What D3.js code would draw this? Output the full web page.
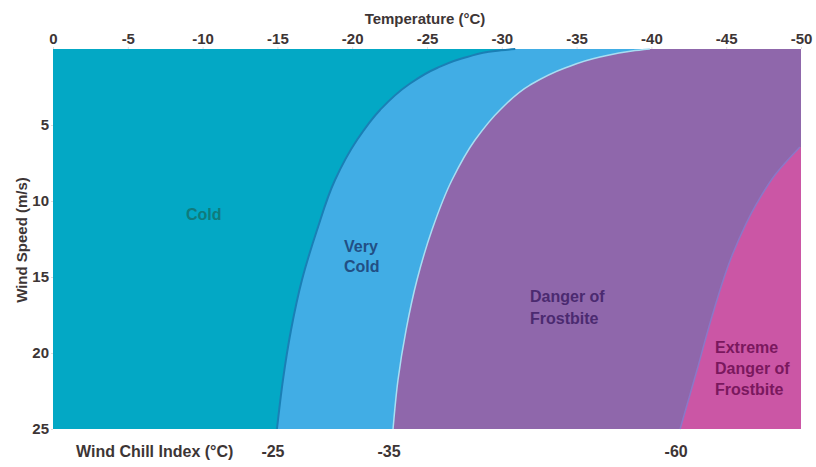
<!DOCTYPE html>
<html><head><meta charset="utf-8">
<script src="https://cdn.jsdelivr.net/npm/d3@7"></script>
<style>body{margin:0;background:#fff}svg{display:block}text{font-family:"Liberation Sans",Arial,sans-serif}</style>
</head><body><svg id="c" width="816" height="467"></svg>
<script>
const tempTicks = [0,-5,-10,-15,-20,-25,-30,-35,-40,-45,-50];
const windTicks = [5,10,15,20,25];
// boundaries: [wind (m/s), temperature (°C)]
const coldVeryCold = [[0,-30.9],[0.13,-29.55],[0.53,-27.67],[1.25,-25.67],[2.37,-23.73],[4.01,-21.86],[5.99,-20.32],[8.62,-18.85],[11.91,-17.65],[15.2,-16.64],[18.49,-15.91],[21.78,-15.37],[25,-14.97]];
const veryColdFrost = [[0,-39.9],[0.13,-38.7],[0.53,-36.56],[1.25,-34.22],[2.37,-31.88],[4.01,-29.88],[5.99,-28.21],[8.62,-26.67],[11.91,-25.33],[15.2,-24.33],[18.49,-23.6],[21.78,-23.06],[25,-22.73]];
const frostExtreme = [[6.45,-49.93],[8.29,-48.26],[10.13,-47.06],[13.42,-45.46],[17.83,-43.98],[21.12,-43.05],[25,-41.92]];
const zoneNames = ["Cold","Very Cold","Danger of Frostbite","Extreme Danger of Frostbite"];
const wciLabels = [-25,-35,-60];

const svg = d3.select("#c");
const x = d3.scaleLinear().domain([0,-50]).range([53,801]);
const y = d3.scaleLinear().domain([0,25]).range([49,429]);

svg.append("rect").attr("x",x(0)).attr("y",y(0)).attr("width",x(-50)-x(0)).attr("height",y(25)-y(0)).attr("fill","#8F67AB");

const crv = d3.curveMonotoneY;
const area = (pts, xa, xb) => d3.area().curve(crv).y(d=>y(d[0])).x0(xa).x1(xb)(pts);
svg.append("path").attr("d", area(frostExtreme, d=>x(d[1]), x(-50))).attr("fill","#CB56A5");
svg.append("path").attr("d", area(veryColdFrost, x(0), d=>x(d[1]))).attr("fill","#41ADE5");
svg.append("path").attr("d", area(coldVeryCold, x(0), d=>x(d[1]))).attr("fill","#03A8C5");

const line = d3.line().curve(crv).y(d=>y(d[0])).x(d=>x(d[1]));
svg.append("path").attr("d", line(coldVeryCold)).attr("fill","none").attr("stroke","#1a7fb5").attr("stroke-width",2);
svg.append("path").attr("d", line(veryColdFrost)).attr("fill","none").attr("stroke","#a8def2").attr("stroke-width",1.5);
svg.append("path").attr("d", line(frostExtreme)).attr("fill","none").attr("stroke","#8a78c8").attr("stroke-width",1.5);

const ink = "#3d3535";
const topAxis = svg.append("g").attr("transform",`translate(0,${y(0)})`)
  .call(d3.axisTop(x).tickValues(tempTicks).tickSize(2).tickPadding(3).tickFormat(d=>d));
const leftAxis = svg.append("g").attr("transform",`translate(${x(0)},0)`)
  .call(d3.axisLeft(y).tickValues(windTicks).tickSize(2).tickPadding(2));
[topAxis,leftAxis].forEach(g=>{
  g.select(".domain").remove();
  g.selectAll("line").attr("stroke","#e4dcdc");
  g.selectAll("text").attr("font-size",15).attr("font-weight","bold").attr("fill",ink);
});
topAxis.selectAll("text").attr("dy","0em");

svg.append("text").attr("x",425).attr("y",24).attr("text-anchor","middle").attr("font-size",15).attr("font-weight","bold").attr("fill",ink).text("Temperature (°C)");
svg.append("text").attr("transform",`translate(27,240) rotate(-90)`).attr("text-anchor","middle").attr("font-size",15).attr("font-weight","bold").attr("fill",ink).text("Wind Speed (m/s)");

svg.append("text").attr("x",76).attr("y",457).attr("font-size",16).attr("font-weight","bold").attr("fill",ink).text("Wind Chill Index (°C)");
const wciPos = [coldVeryCold[coldVeryCold.length-1][1], veryColdFrost[veryColdFrost.length-1][1], frostExtreme[frostExtreme.length-1][1]];
wciLabels.forEach((v,i)=>{
  svg.append("text").attr("x",x(wciPos[i])-4).attr("y",457).attr("text-anchor","middle").attr("font-size",16).attr("font-weight","bold").attr("fill",ink).text(v);
});

function multi(lines, px, py, color, gap){
  const t = svg.append("text").attr("x",px).attr("y",py).attr("font-size",16).attr("font-weight","bold").attr("fill",color);
  lines.forEach((l,i)=>t.append("tspan").attr("x",px).attr("y",py+i*gap).text(l));
}
multi([zoneNames[0]], 186, 220, "#107b7c", 0);
multi(["Very","Cold"], 344, 252, "#214f84", 20);
multi(["Danger of","Frostbite"], 530, 302, "#4b2a70", 22);
multi(["Extreme","Danger of","Frostbite"], 715, 353, "#7a185e", 21);
</script></body></html>
